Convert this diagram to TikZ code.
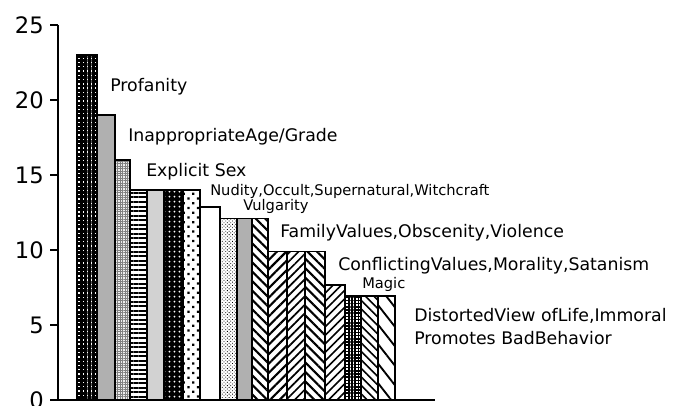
\documentclass[tikz,border=0pt]{standalone}
\usepackage{fontspec}
\setmainfont{DejaVu Sans}
\usepackage{tikz}
\usetikzlibrary{patterns,patterns.meta}

\begin{document}
\begin{tikzpicture}[x=0.75pt,y=11.25pt,
	bar/.style={draw=black, line width=1.4pt},
	lbl/.style={anchor=base west, inner sep=0pt, font=\fontsize{13}{15}\selectfont},
	smalllbl/.style={anchor=base west, inner sep=0pt, font=\fontsize{11}{13}\selectfont},
	ticklbl/.style={anchor=east, inner sep=0pt, font=\fontsize{17}{20}\selectfont}]
				\useasboundingbox (0,-0.4) rectangle (674,26.6667);
				
				% bars, tallest first
				\draw [bar, pattern={Hatch[angle=0,distance=3.2pt,line width=2.2pt]}] (77,0) rectangle (97,23);
				\draw [bar, fill=gray!62] (97,0) rectangle (115,19);
				\draw [bar, preaction={fill=gray!15}, pattern={Hatch[angle=0,distance=1.8pt,line width=0.35pt]}, pattern color=gray] (115,0) rectangle (130,16);
				\draw [bar, pattern={Lines[angle=0,distance=3.4pt,line width=1.5pt]}] (130,0) rectangle (147,14);
				\draw [bar, fill=gray!35] (147,0) rectangle (164,14);
				\draw [bar, preaction={fill=black}, pattern={Dots[distance=4pt,radius=0.8pt]}, pattern color=white] (164,0) rectangle (183,14);
				\draw [bar, pattern={Dots[distance=5pt,radius=1.2pt,angle=45]}] (183,0) rectangle (200,14);
				\draw [bar, fill=white] (200,0) rectangle (220,12.85);
				\draw [bar, pattern={Dots[distance=1.8pt,radius=0.45pt,angle=45]}] (220,0) rectangle (237,12.1);
				\draw [bar, fill=gray!62] (237,0) rectangle (252,12.1);
				\draw [bar, pattern={Lines[angle=-45,distance=5pt,line width=1.6pt]}] (252,0) rectangle (268,12.1);
				
				\draw [bar, pattern={Lines[angle=45,distance=5pt,line width=1.6pt]}] (268,0) rectangle (287,9.9);
				\draw [bar, pattern={Lines[angle=45,distance=4.5pt,line width=1.3pt]}] (287,0) rectangle (305,9.9);
				\draw [bar, pattern={Lines[angle=-45,distance=5pt,line width=1.6pt]}] (305,0) rectangle (325,9.9);
				\draw [bar, pattern={Lines[angle=45,distance=4.5pt,line width=1.2pt]}] (325,0) rectangle (345,7.65);
				\draw [bar, pattern={Hatch[angle=0,distance=2.4pt,line width=1.2pt]}] (345,0) rectangle (361,6.95);
				\draw [bar, pattern={Lines[angle=-45,distance=4.5pt,line width=1.2pt]}] (361,0) rectangle (378,6.95);
				\draw [bar, pattern={Lines[angle=-52,distance=9pt,line width=1.4pt]}] (378,0) rectangle (395,6.95);
				
				% axes
				\draw [line width=1.4pt] (58,0) -- (58,25);
				\draw [line width=1.4pt] (50,0) -- (435,0);
				\draw [line width=1.2pt] (50,5) -- (58,5);
				\draw [line width=1.2pt] (50,10) -- (58,10);
				\draw [line width=1.2pt] (50,15) -- (58,15);
				\draw [line width=1.2pt] (50,20) -- (58,20);
				\draw [line width=1.2pt] (50,25) -- (58,25);
				
				\node [ticklbl] (t0) at (44,0) {0};
				\node [ticklbl] (t5) at (44,5) {5};
				\node [ticklbl] (t10) at (44,10) {10};
				\node [ticklbl] (t15) at (44,15) {15};
				\node [ticklbl] (t20) at (44,20) {20};
				\node [ticklbl] (t25) at (44,25) {25};
				
				% category labels
				\node [lbl] (profanity) at (110,{(400-92)/15}) {Profanity};
				\node [lbl] (agegrade) at (128,{(400-142)/15}) {InappropriateAge/Grade};
				\node [lbl] (sex) at (146,{(400-177)/15}) {Explicit Sex};
				\node [smalllbl] (nudity) at (210,{(400-196)/15}) {Nudity,Occult,Supernatural,Witchcraft};
				\node [smalllbl] (vulgar) at (243,{(400-211)/15}) {Vulgarity};
				\node [lbl] (family) at (280,{(400-238)/15}) {FamilyValues,Obscenity,Violence};
				\node [lbl] (conflict) at (338,{(400-271)/15}) {ConflictingValues,Morality,Satanism};
				\node [smalllbl] (magic) at (362,{(400-289)/15}) {Magic};
				\node [lbl] (distorted) at (414,{(400-322)/15}) {DistortedView ofLife,Immoral};
				\node [lbl] (behavior) at (414,{(400-345)/15}) {Promotes BadBehavior};
				\end{tikzpicture}
\end{document}
